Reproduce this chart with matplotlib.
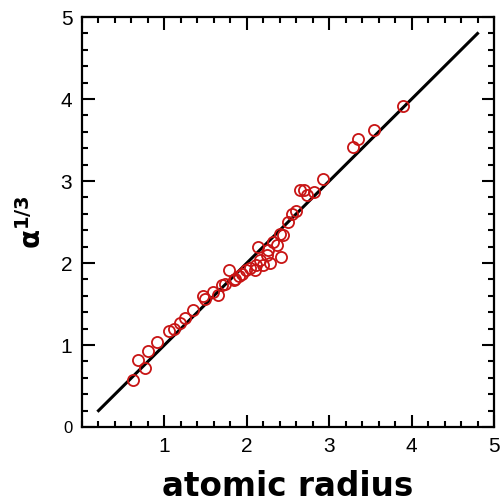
import matplotlib
matplotlib.use("Agg")
from matplotlib import pyplot as plt
from matplotlib.ticker import MultipleLocator

plt.rcParams['font.family'] = ['Liberation Sans', 'DejaVu Sans']
plt.rcParams['mathtext.fontset'] = 'custom'
plt.rcParams['mathtext.bf'] = 'DejaVu Sans:bold'
plt.rcParams['mathtext.rm'] = 'DejaVu Sans'

# atomic radius vs alpha^(1/3)
radius = [0.62, 0.68, 0.76, 0.80, 0.91, 1.06, 1.12, 1.19, 1.25, 1.35, 1.47, 1.49,
          1.59, 1.65, 1.70, 1.74, 1.79, 1.84, 1.86, 1.90, 1.94, 1.99, 2.04, 2.10,
          2.11, 2.14, 2.16, 2.20, 2.24, 2.26, 2.28, 2.32, 2.37, 2.42, 2.40, 2.44,
          2.50, 2.55, 2.60, 2.65, 2.69, 2.73, 2.81, 2.93, 3.29, 3.35, 3.54, 3.90]
alpha13 = [0.57, 0.82, 0.72, 0.93, 1.04, 1.17, 1.20, 1.27, 1.33, 1.43, 1.60, 1.56,
           1.65, 1.61, 1.73, 1.75, 1.91, 1.79, 1.81, 1.84, 1.87, 1.91, 1.94, 1.91,
           1.98, 2.20, 2.04, 1.98, 2.10, 2.16, 2.00, 2.26, 2.22, 2.08, 2.36, 2.34,
           2.50, 2.60, 2.63, 2.89, 2.89, 2.83, 2.87, 3.02, 3.42, 3.51, 3.62, 3.91]

# fit line y = x
fit_x = [0.2, 4.8]
fit_y = [0.2, 4.8]

fig = plt.figure(figsize=(5.01, 5.03), dpi=100)
ax = fig.add_axes([0.1637, 0.151, 0.8223, 0.815])

ax.plot(fit_x, fit_y, color='black', lw=2.2, zorder=2)
ax.plot(radius, alpha13, 'o', mfc='none', mec='#c81414', ms=8, mew=1.3, zorder=3)

ax.set_xlim(0, 5)
ax.set_ylim(0, 5)
ax.xaxis.set_major_locator(MultipleLocator(1))
ax.yaxis.set_major_locator(MultipleLocator(1))
ax.xaxis.set_minor_locator(MultipleLocator(0.2))
ax.yaxis.set_minor_locator(MultipleLocator(0.2))
ax.tick_params(which='both', direction='in', top=True, right=True, width=1.5)
ax.tick_params(which='major', length=9, labelsize=15, pad=7)
ax.tick_params(which='minor', length=4.5)
for s in ax.spines.values():
    s.set_linewidth(1.6)

ax.set_xticks([1, 2, 3, 4, 5])
ax.set_yticks([0, 1, 2, 3, 4, 5])
ax.get_yticklabels()[0].set_fontsize(12)

ax.set_xlabel('atomic radius', fontsize=23.5, fontweight='bold',
              family='DejaVu Sans', labelpad=10)
ax.set_ylabel(r'$\mathbf{\alpha^{1/3}}$', fontsize=20, labelpad=10)

plt.savefig("out.png", dpi=100)
